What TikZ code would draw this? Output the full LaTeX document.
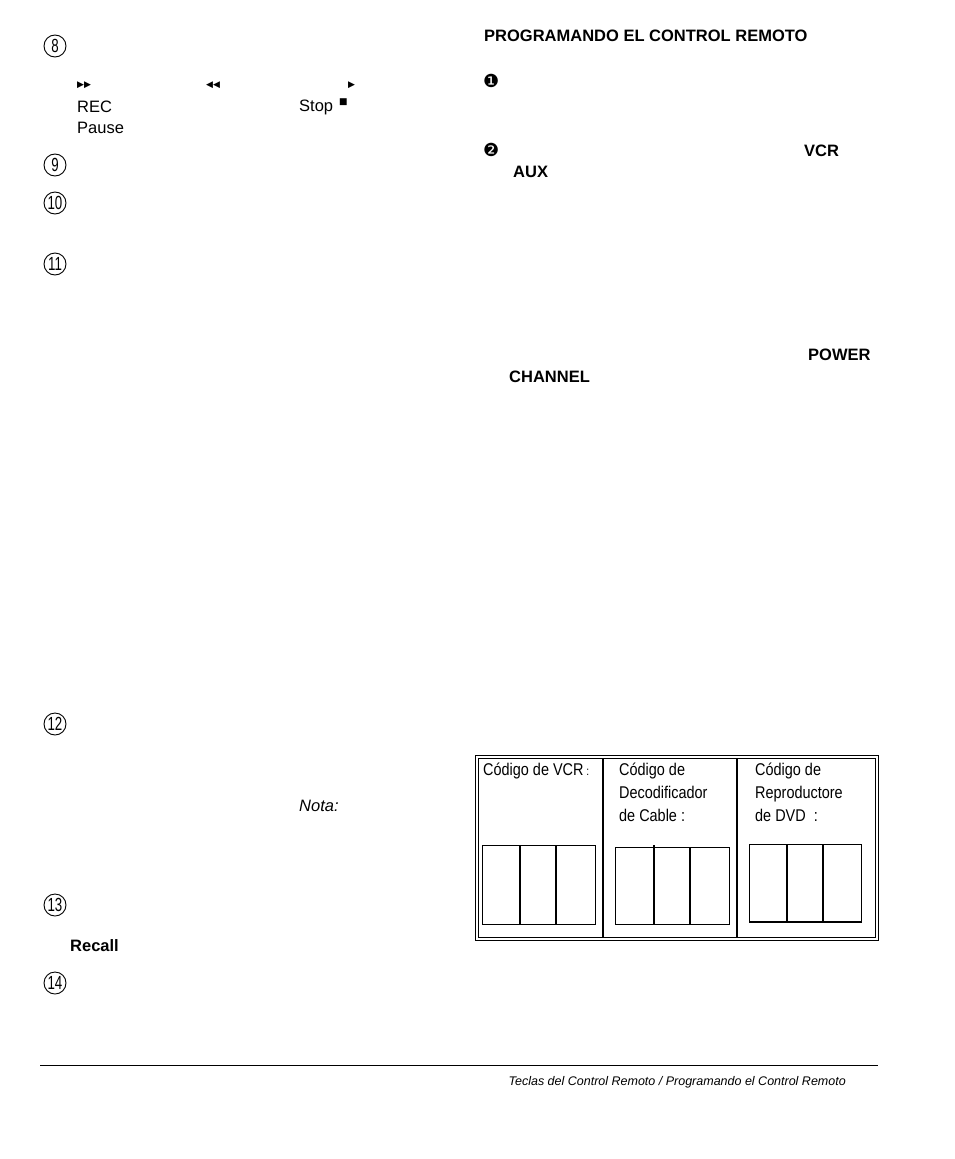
\documentclass[tikz,border=0pt]{standalone}
\usepackage{fontspec}
\setmainfont{Liberation Sans}
\newfontfamily\djvfont{DejaVu Sans}
\newfontfamily\narrowf[FakeStretch=0.85]{Liberation Sans}
\newfontfamily\numf[FakeStretch=0.7]{Liberation Sans}
\begin{document}
\begin{tikzpicture}[x=1pt,y=-1pt,
  num/.style={circle,draw,line width=0.9pt,minimum size=22pt,inner sep=0,font=\numf\fontsize{19}{19}\selectfont},
  txt/.style={anchor=west,inner sep=0,font=\fontsize{16.5}{16.5}\selectfont},
  btxt/.style={anchor=west,inner sep=0,font=\bfseries\fontsize{16.5}{16.5}\selectfont},
  sym/.style={anchor=west,inner sep=0,font=\djvfont\fontsize{9}{9}\selectfont},
  ttxt/.style={anchor=north west,inner sep=0,align=left,font=\narrowf\fontsize{17}{23}\selectfont},
  thick2/.style={line width=2pt},
  thin1/.style={line width=1pt}]
\useasboundingbox (0,0) rectangle (954,1159);
% left column
\node[num] (n8) at (55,46) {8};
\node[sym] (s1) at (77,85) {▶▶};
\node[sym] (s2) at (206,85) {◀◀};
\node[sym] (s3) at (348,85) {▶};
\node[txt] (rec) at (77,107) {REC};
\node[txt] (stop) at (299,107) {Stop};
\node[sym] (s4) at (339,102) {■};
\node[txt] (pause) at (77,128) {Pause};
\node[num] (n9) at (55,165) {9};
\node[num] (n10) at (55,203) {10};
\node[num] (n11) at (55,264) {11};
\node[num] (n12) at (55,724) {12};
\node[txt,font=\itshape\fontsize{16.5}{16.5}\selectfont] (nota) at (299,806) {Nota:};
\node[num] (n13) at (55,905) {13};
\node[btxt] (recall) at (70,946) {Recall};
\node[num] (n14) at (55,983) {14};
% right column
\node[btxt] (title) at (484,36) {PROGRAMANDO EL CONTROL REMOTO};
\node[anchor=west,inner sep=0,font=\djvfont\fontsize{18}{18}\selectfont] (c1) at (483,81) {❶};
\node[anchor=west,inner sep=0,font=\djvfont\fontsize{18}{18}\selectfont] (c2) at (483,150) {❷};
\node[btxt] (vcr) at (804,151) {VCR};
\node[btxt] (aux) at (513,172) {AUX};
\node[btxt] (power) at (808,355) {POWER};
\node[btxt] (chan) at (509,377) {CHANNEL};
% table
\draw[thin1] (475,755) rectangle (878,940);
\draw[thin1] (478,758) rectangle (875,937);
\draw[thick2] (603,758) -- (603,937);
\draw[thick2] (737,758) -- (737,937);
\node[ttxt] (t1) at (483,763) {Código de VCR\,{\fontsize{12}{12}\selectfont :}};
\node[ttxt] (t2) at (619,763) {Código de\\Decodificador\\de Cable :};
\node[ttxt] (t3) at (755,763) {Código de\\Reproductore\\de DVD~ :};
\draw[thin1] (482,845) rectangle (595,924);
\draw[thick2] (520,845) -- (520,924);
\draw[thick2] (556,845) -- (556,924);
\draw[thin1] (615,847) rectangle (729,924);
\draw[thick2] (654,845) -- (654,924);
\draw[thick2] (690,847) -- (690,924);
\draw[thin1] (749,844) rectangle (861,922);
\draw[thick2] (749,922) -- (861,922);
\draw[thick2] (787,844) -- (787,922);
\draw[thick2] (823,844) -- (823,922);
% footer
\draw[thin1] (40,1065) -- (878,1065);
\node[anchor=east,inner sep=0,font=\itshape\fontsize{12.5}{12.5}\selectfont] (foot) at (846,1082) {Teclas del Control Remoto / Programando el Control Remoto};
\end{tikzpicture}
\end{document}
